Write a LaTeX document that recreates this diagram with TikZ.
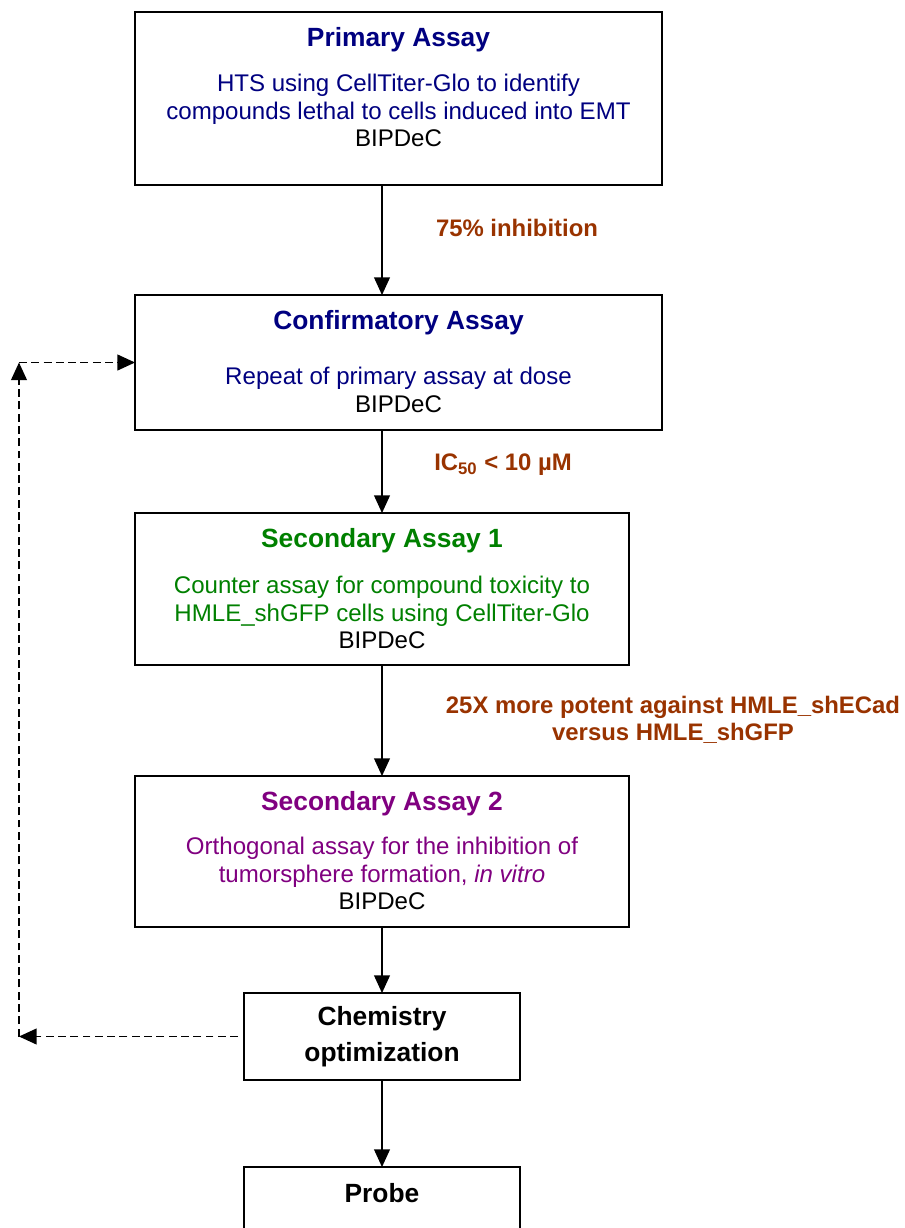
\documentclass[tikz,border=0pt]{standalone}
\usepackage{fontspec}
\setmainfont{Liberation Sans}
\usetikzlibrary{arrows.meta, positioning}
\definecolor{assaynavy}{RGB}{0,0,128}
\definecolor{assaygreen}{RGB}{0,128,0}
\definecolor{assaypurple}{RGB}{128,0,128}
\definecolor{cutrust}{RGB}{153,51,0}

\begin{document}
\begin{tikzpicture}[x=0.02cm, y=-0.02cm,
	box/.style={draw, line width=1.1pt, inner sep=0pt, outer sep=0pt},
	title/.style={font=\fontsize{15}{18}\selectfont\bfseries},
	body/.style={anchor=north, align=center, inner sep=0pt, font=\fontsize{13.7}{15.6}\selectfont},
	cutoff/.style={align=center, text=cutrust, font=\fontsize{13.6}{15.3}\selectfont\bfseries},
	flow/.style={line width=0.65pt, -{Triangle[length=10pt, width=9pt]}},
	back/.style={flow, line width=0.8pt, dash pattern=on 4.5pt off 2.5pt}]
	\clip (0,0) rectangle (904,1228);
	\coordinate (spine) at (382,0);
	\coordinate (loopx) at (19,0);

	\node[box, minimum width=10.54cm, minimum height=3.46cm] (primary) at (398.5,98.5) {};
	\node[title, text=assaynavy] (primary-title) at ([yshift=-0.56cm]primary.north) {Primary Assay};
	\node[body, text=assaynavy] (primary-text) at ([yshift=-1.24cm]primary.north) {HTS using CellTiter-Glo to identify\\compounds lethal to cells induced into EMT\\\textcolor{black}{BIPDeC}};

	\node[box, minimum width=10.54cm, minimum height=2.7cm] (confirm) at (398.5,362.5) {};
	\node[title, text=assaynavy] (confirm-title) at ([yshift=-0.56cm]confirm.north) {Confirmatory Assay};
	\node[body, text=assaynavy] (confirm-text) at ([yshift=-1.44cm]confirm.north) {Repeat of primary assay at dose\\\textcolor{black}{BIPDeC}};

	\node[box, minimum width=9.88cm, minimum height=3.04cm] (second1) at (382,589) {};
	\node[title, text=assaygreen] (second1-title) at ([yshift=-0.56cm]second1.north) {Secondary Assay 1};
	\node[body, text=assaygreen] (second1-text) at ([yshift=-1.26cm]second1.north) {Counter assay for compound toxicity to\\HMLE\_shGFP cells using CellTiter-Glo\\\textcolor{black}{BIPDeC}};

	\node[box, minimum width=9.88cm, minimum height=3.02cm] (second2) at (382,851.5) {};
	\node[title, text=assaypurple] (second2-title) at ([yshift=-0.56cm]second2.north) {Secondary Assay 2};
	\node[body, text=assaypurple] (second2-text) at ([yshift=-1.22cm]second2.north) {Orthogonal assay for the inhibition of\\tumorsphere formation, \textit{in vitro}\\\textcolor{black}{BIPDeC}};

	\node[box, title, align=center, minimum width=5.52cm, minimum height=1.74cm, font=\fontsize{15}{20.4}\selectfont\bfseries] (chem) at (382,1036.5) {Chemistry\\optimization};

	\node[box, minimum width=5.52cm, minimum height=2.4cm] (probe) at (382,1227) {};
	\node[title] (probe-title) at ([yshift=-0.52cm]probe.north) {Probe};

	\node[cutoff] (cut-inhibition) at (517,228) {75\% inhibition};
	\node[cutoff] (cut-ic50) at (503,465) {IC\textsubscript{50} < 10 µM};
	\node[cutoff] (cut-potency) at (673,719.5) {25X more potent against HMLE\_shECad\\versus HMLE\_shGFP};

	\draw[flow] (primary.south -| spine) -- (confirm.north -| spine);
	\draw[flow] (confirm.south -| spine) -- (second1.north -| spine);
	\draw[flow] (second1.south -| spine) -- (second2.north -| spine);
	\draw[flow] (second2.south -| spine) -- (chem.north -| spine);
	\draw[flow] (chem.south -| spine) -- (probe.north -| spine);

	\draw[back] ([xshift=-0.12cm]chem.west) -- (chem.west -| loopx);
	\draw[back] (chem.west -| loopx) -- (confirm.west -| loopx);
	\draw[back] (confirm.west -| loopx) -- (confirm.west);
\end{tikzpicture}
\end{document}
